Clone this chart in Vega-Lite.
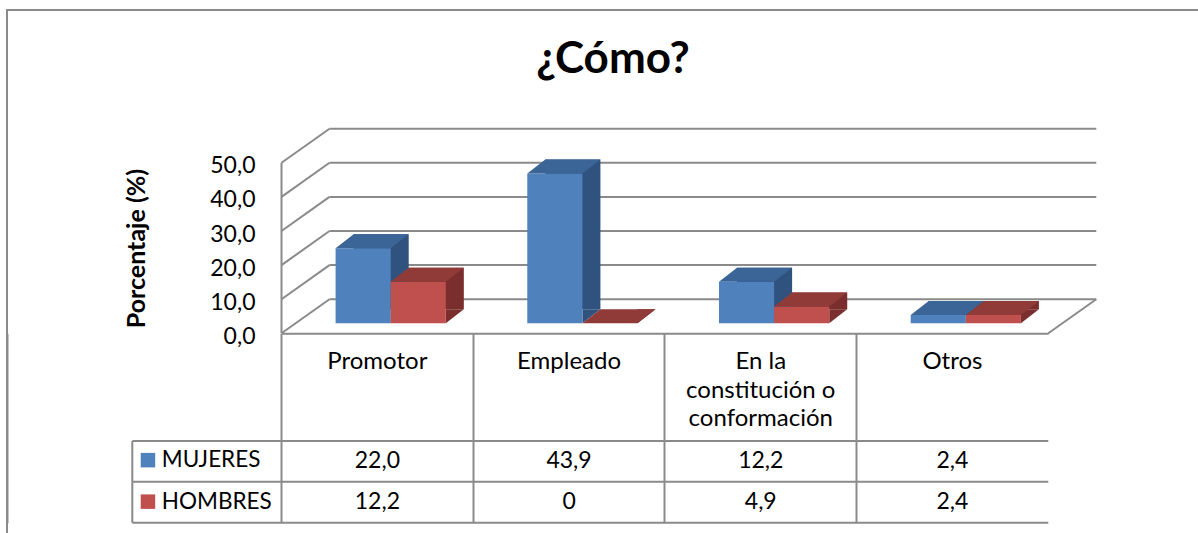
{
  "$schema": "https://vega.github.io/schema/vega-lite/v6.json",
  "autosize": {"type": "none"},
  "padding": {"left": 7, "top": 10, "right": -10, "bottom": -10},
  "width": 1201,
  "height": 533,
  "config": {
    "view": {"stroke": "#8a8a8a", "strokeWidth": 2},
    "font": "Lato",
    "locale": {"number": {"decimal": ",", "thousands": ".", "grouping": [3], "currency": ["", " €"]}}
  },
  "title": {
    "text": "¿Cómo?",
    "font": "Lato",
    "fontSize": 44,
    "fontWeight": "bold",
    "color": "#000000",
    "anchor": "middle",
    "frame": "group",
    "offset": 0,
    "baseline": "alphabetic",
    "dy": 107.3,
    "dx": 5.5
  },
  "datasets": {
    "datos": [
      {"categoria": "Promotor", "serie": "MUJERES", "valor": 22.0},
      {"categoria": "Promotor", "serie": "HOMBRES", "valor": 12.2},
      {"categoria": "Empleado", "serie": "MUJERES", "valor": 43.9},
      {"categoria": "Empleado", "serie": "HOMBRES", "valor": 0},
      {"categoria": "En la constitución o conformación", "serie": "MUJERES", "valor": 12.2},
      {"categoria": "En la constitución o conformación", "serie": "HOMBRES", "valor": 4.9},
      {"categoria": "Otros", "serie": "MUJERES", "valor": 2.4},
      {"categoria": "Otros", "serie": "HOMBRES", "valor": 2.4}
    ],
    "rejilla": [{"v": 0}, {"v": 10}, {"v": 20}, {"v": 30}, {"v": 40}, {"v": 50}],
    "series": [{"serie": "MUJERES"}, {"serie": "HOMBRES"}]
  },
  "layer": [
    {
      "data": {"name": "rejilla"},
      "mark": {"type": "rule", "color": "#8a8a8a", "strokeWidth": 2, "xOffset": 48, "x2Offset": 48, "yOffset": -34.1},
      "encoding": {
        "x": {"datum": "Promotor", "type": "nominal", "bandPosition": 0},
        "x2": {"datum": "Otros", "bandPosition": 1},
        "y": {"field": "v", "type": "quantitative", "scale": {"domain": [0, 50], "range": [323.3, 152.8], "nice": false, "zero": false}, "axis": null}
      }
    },
    {
      "data": {"name": "rejilla"},
      "mark": {"type": "rule", "color": "#8a8a8a", "strokeWidth": 2, "x2Offset": 48, "y2Offset": -34.1},
      "encoding": {
        "x": {"datum": "Promotor", "type": "nominal", "bandPosition": 0},
        "x2": {"datum": "Promotor", "bandPosition": 0},
        "y": {"field": "v", "type": "quantitative", "scale": {"domain": [0, 50], "range": [323.3, 152.8], "nice": false, "zero": false}, "axis": null},
        "y2": {"field": "v"}
      }
    },
    {
      "data": {"name": "rejilla"},
      "transform": [{"filter": "datum.v == 0"}],
      "mark": {"type": "rule", "color": "#8a8a8a", "strokeWidth": 2, "x2Offset": 48, "y2Offset": -34.1},
      "encoding": {
        "x": {"datum": "Otros", "type": "nominal", "bandPosition": 1},
        "x2": {"datum": "Otros", "bandPosition": 1},
        "y": {"field": "v", "type": "quantitative", "scale": {"domain": [0, 50], "range": [323.3, 152.8], "nice": false, "zero": false}, "axis": null},
        "y2": {"field": "v"}
      }
    },
    {
      "data": {"name": "rejilla"},
      "mark": {"type": "rule", "color": "#8a8a8a", "strokeWidth": 2},
      "encoding": {
        "x": {"datum": "Promotor", "type": "nominal", "bandPosition": 0},
        "y": {"aggregate": "max", "field": "v", "type": "quantitative", "scale": {"domain": [0, 50], "range": [323.3, 152.8], "nice": false, "zero": false}, "axis": null},
        "y2": {"aggregate": "min", "field": "v"}
      }
    },
    {
      "data": {"name": "datos"},
      "mark": {"type": "bar", "yOffset": -24, "y2Offset": -24},
      "encoding": {
        "x": {"field": "categoria", "type": "nominal", "sort": null},
        "xOffset": {"field": "serie", "type": "nominal", "sort": null, "scale": {"type": "band", "domain": ["MUJERES", "HOMBRES"], "paddingInner": 0, "paddingOuter": 0.739, "align": 0.885}},
        "y": {"field": "valor", "type": "quantitative", "stack": null, "scale": {"domain": [0, 50], "range": [323.3, 152.8], "nice": false, "zero": false}, "axis": null},
        "y2": {"datum": 0},
        "fill": {"condition": {"test": "datum.serie == 'MUJERES'", "value": "#2f527f"}, "value": "#7a2f2e"}
      }
    },
    {
      "data": {"name": "datos"},
      "mark": {"type": "point", "shape": "M1,-0.508L1,0L1.6531,-0.508Z", "size": 3038.2, "filled": true, "opacity": 1, "strokeWidth": 0, "yOffset": -10},
      "encoding": {
        "x": {"field": "categoria", "type": "nominal", "sort": null},
        "xOffset": {"field": "serie", "type": "nominal", "sort": null, "scale": {"type": "band", "domain": ["MUJERES", "HOMBRES"], "paddingInner": 0, "paddingOuter": 0.739, "align": 0.664}},
        "y": {"datum": 0, "type": "quantitative", "scale": {"domain": [0, 50], "range": [323.3, 152.8], "nice": false, "zero": false}, "axis": null},
        "fill": {"condition": {"test": "datum.serie == 'MUJERES'", "value": "#2f527f"}, "value": "#7a2f2e"}
      }
    },
    {
      "data": {"name": "datos"},
      "mark": {"type": "bar", "yOffset": -10, "y2Offset": -10},
      "encoding": {
        "x": {
          "field": "categoria",
          "type": "nominal",
          "sort": null,
          "scale": {"domain": ["Promotor", "Empleado", "En la constitución o conformación", "Otros"], "range": [274.5, 1041.3], "paddingInner": 0, "paddingOuter": 0},
          "axis": {
            "orient": "bottom",
            "offset": -209.7,
            "title": null,
            "grid": false,
            "domain": true,
            "domainColor": "#8a8a8a",
            "domainWidth": 2,
            "ticks": true,
            "bandPosition": 0,
            "tickExtra": true,
            "tickSize": 189.4,
            "tickColor": "#8a8a8a",
            "tickWidth": 2,
            "labels": false
          }
        },
        "xOffset": {"field": "serie", "type": "nominal", "sort": null, "scale": {"type": "band", "domain": ["MUJERES", "HOMBRES"], "paddingInner": 0, "paddingOuter": 0.739, "align": 0.664}},
        "y": {
          "field": "valor",
          "type": "quantitative",
          "stack": null,
          "scale": {"domain": [0, 50], "range": [323.3, 152.8], "nice": false, "zero": false},
          "axis": {
            "orient": "left",
            "offset": -274.5,
            "values": [0, 10, 20, 30, 40, 50],
            "format": ".1f",
            "domain": false,
            "ticks": false,
            "grid": false,
            "labelPadding": 26.5,
            "labelFont": "Lato",
            "labelFontSize": 23,
            "labelColor": "#000000",
            "labelBaseline": "middle",
            "labelOffset": 3,
            "labelOverlap": false,
            "labelFlush": false,
            "title": "Porcentaje (%)",
            "titleFont": "Lato",
            "titleFontSize": 25,
            "titleFontWeight": "bold",
            "titleColor": "#000000",
            "titleX": -145,
            "titleBaseline": "middle",
            "titleAlign": "center",
            "titleAngle": 270
          }
        },
        "y2": {"datum": 0},
        "color": {
          "field": "serie",
          "type": "nominal",
          "scale": {"domain": ["MUJERES", "HOMBRES"], "range": ["#4f81bd", "#c0504d"]},
          "legend": {
            "orient": "none",
            "legendX": 129.7,
            "legendY": 438.9,
            "title": null,
            "direction": "vertical",
            "symbolType": "square",
            "symbolSize": 210,
            "symbolStrokeWidth": 0,
            "labelFont": "Lato",
            "labelFontSize": 22.5,
            "labelColor": "#000000",
            "labelOffset": 2.6,
            "rowPadding": 18.5,
            "padding": 0,
            "labelLimit": 0
          }
        }
      }
    },
    {
      "data": {"name": "datos"},
      "mark": {"type": "point", "shape": "M-1,0L1,0L1.6531,-0.508L-0.3469,-0.508Z", "size": 3038.2, "filled": true, "opacity": 1, "strokeWidth": 0, "yOffset": -10},
      "encoding": {
        "x": {"field": "categoria", "type": "nominal", "sort": null},
        "xOffset": {"field": "serie", "type": "nominal", "sort": null, "scale": {"type": "band", "domain": ["MUJERES", "HOMBRES"], "paddingInner": 0, "paddingOuter": 0.739, "align": 0.664}},
        "y": {"field": "valor", "type": "quantitative", "scale": {"domain": [0, 50], "range": [323.3, 152.8], "nice": false, "zero": false}, "axis": null},
        "fill": {"condition": {"test": "datum.serie == 'MUJERES'", "value": "#3b6596"}, "value": "#913b39"}
      }
    },
    {
      "data": {"name": "datos"},
      "transform": [{"filter": "datum.serie == 'MUJERES'"}],
      "mark": {"type": "text", "font": "Lato", "fontSize": 24, "color": "#000000", "baseline": "alphabetic", "align": "center", "lineHeight": 28.3, "yOffset": 36},
      "encoding": {
        "x": {"field": "categoria", "type": "nominal", "sort": null},
        "y": {"datum": 0, "type": "quantitative", "scale": {"domain": [0, 50], "range": [323.3, 152.8], "nice": false, "zero": false}, "axis": null},
        "text": {"condition": {"test": "datum.categoria == 'En la constitución o conformación'", "value": ["En la", "constitución o", "conformación"]}, "field": "categoria", "type": "nominal"}
      }
    },
    {
      "data": {"name": "datos"},
      "mark": {"type": "text", "font": "Lato", "fontSize": 23, "color": "#000000", "baseline": "middle", "align": "center"},
      "encoding": {
        "x": {"field": "categoria", "type": "nominal", "sort": null},
        "y": {"field": "serie", "type": "nominal", "sort": null, "scale": {"domain": ["MUJERES", "HOMBRES"], "range": [431, 512.7], "paddingInner": 0, "paddingOuter": 0}, "axis": null},
        "text": {"condition": {"test": "datum.valor == 0", "value": "0"}, "field": "valor", "type": "quantitative", "format": ".1f"}
      }
    },
    {
      "data": {"name": "series"},
      "mark": {"type": "rule", "color": "#8a8a8a", "strokeWidth": 2, "xOffset": -149.2},
      "encoding": {
        "x": {"datum": "Promotor", "type": "nominal", "bandPosition": 0},
        "x2": {"datum": "Otros", "bandPosition": 1},
        "y": {"field": "serie", "type": "nominal", "sort": null, "bandPosition": 0, "scale": {"domain": ["MUJERES", "HOMBRES"], "range": [431, 512.7], "paddingInner": 0, "paddingOuter": 0}, "axis": null}
      }
    },
    {
      "data": {"name": "series"},
      "transform": [{"filter": "datum.serie == 'HOMBRES'"}],
      "mark": {"type": "rule", "color": "#8a8a8a", "strokeWidth": 2, "xOffset": -149.2},
      "encoding": {
        "x": {"datum": "Promotor", "type": "nominal", "bandPosition": 0},
        "x2": {"datum": "Otros", "bandPosition": 1},
        "y": {"field": "serie", "type": "nominal", "sort": null, "bandPosition": 1, "scale": {"domain": ["MUJERES", "HOMBRES"], "range": [431, 512.7], "paddingInner": 0, "paddingOuter": 0}, "axis": null}
      }
    },
    {
      "data": {"name": "series"},
      "mark": {"type": "rule", "color": "#8a8a8a", "strokeWidth": 2, "xOffset": -149.2},
      "encoding": {
        "x": {"datum": "Promotor", "type": "nominal", "bandPosition": 0},
        "y": {"field": "serie", "type": "nominal", "sort": null, "bandPosition": 0, "scale": {"domain": ["MUJERES", "HOMBRES"], "range": [431, 512.7], "paddingInner": 0, "paddingOuter": 0}, "axis": null},
        "y2": {"field": "serie", "bandPosition": 1}
      }
    }
  ],
  "resolve": {"scale": {"y": "independent", "xOffset": "independent"}}
}
